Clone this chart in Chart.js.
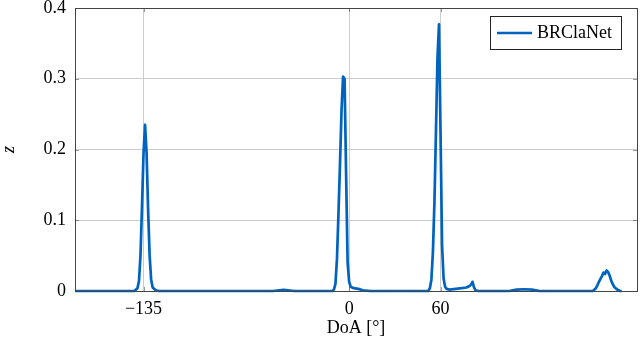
<!DOCTYPE html>
<html lang="en">
  <head>
    <meta charset="UTF-8" />
    <title>BRClaNet DoA spectrum</title>
    <style>
      body {
        margin: 0;
        background: #fff;
      }
      .chartContainer {
        width: 640px;
        height: 348px;
      }
    </style>
    <script src="https://cdn.jsdelivr.net/npm/chart.js"></script>
  </head>
  <body>
    <div class="chartContainer">
      <canvas id="doaChart"></canvas>
    </div>
    <script>
      // DoA angles (degrees) and spectrum values
      const doa = [
        -180, -145, -141, -139, -138, -137, -136, -135, -134, -133, -132, -131, -130, -129, -127, -125,
        -50, -43, -36,
        -11, -10, -9, -8, -7, -6, -5, -4, -3, -2, -1, 0, 1, 3, 6, 9, 14,
        50, 52, 53, 54, 55, 56, 57, 58, 59, 60, 61, 62, 63, 64, 66, 70, 74, 77, 79, 80, 81, 82, 83, 85,
        105, 110, 115, 120, 125,
        160, 162, 163, 164, 165, 166, 167, 168, 169, 170, 171, 172, 173, 174, 175, 176, 177, 178, 179
      ];
      const zBRClaNet = [
        0, 0, 0, 0.004, 0.014, 0.05, 0.12, 0.195, 0.235, 0.195, 0.115, 0.05, 0.016, 0.005, 0.001, 0,
        0, 0.0015, 0,
        0, 0.002, 0.01, 0.045, 0.11, 0.18, 0.255, 0.303, 0.3, 0.165, 0.04, 0.013, 0.006, 0.004, 0.003, 0.001, 0,
        0, 0, 0.004, 0.016, 0.055, 0.125, 0.225, 0.33, 0.377, 0.225, 0.065, 0.018, 0.006, 0.003, 0.002, 0.003, 0.004, 0.005, 0.007, 0.009, 0.013, 0.005, 0.001, 0,
        0, 0.002, 0.0025, 0.002, 0,
        0, 0.004, 0.008, 0.013, 0.017, 0.021, 0.026, 0.024, 0.029, 0.027, 0.022, 0.015, 0.01, 0.006, 0.004, 0.002, 0.001, 0, 0
      ];
      const xTicks = [-135, 0, 60];
      const yTicks = [0, 0.1, 0.2, 0.3, 0.4];
      const seriesLabel = "BRClaNet";

      const serif = "'Liberation Serif', 'DejaVu Serif', serif";
      const lineColor = "#0063bf";

      // frame, inner tick marks, axis titles and the boxed legend
      const decorations = {
        id: "decorations",
        afterDraw(chart) {
          const ctx = chart.ctx;
          const a = chart.chartArea;
          const xs = chart.scales.x;
          const ys = chart.scales.y;
          ctx.save();
          ctx.strokeStyle = "rgba(70,70,70,0.55)";
          ctx.lineWidth = 1;
          xTicks.forEach((v) => {
            const px = Math.round(xs.getPixelForValue(v)) + 0.5;
            ctx.beginPath();
            ctx.moveTo(px, a.bottom);
            ctx.lineTo(px, a.bottom - 4);
            ctx.moveTo(px, a.top);
            ctx.lineTo(px, a.top + 4);
            ctx.stroke();
          });
          yTicks.forEach((v) => {
            const py = Math.round(ys.getPixelForValue(v)) + 0.5;
            ctx.beginPath();
            ctx.moveTo(a.left, py);
            ctx.lineTo(a.left + 4, py);
            ctx.moveTo(a.right, py);
            ctx.lineTo(a.right - 4, py);
            ctx.stroke();
          });
          ctx.strokeStyle = "#444";
          ctx.strokeRect(Math.round(a.left) + 0.5, Math.round(a.top) + 0.5, Math.round(a.right - a.left), Math.round(a.bottom - a.top));

          ctx.fillStyle = "#000";
          ctx.font = "18px " + serif;
          ctx.textAlign = "center";
          ctx.textBaseline = "middle";
          ctx.fillText("DoA [°]", (a.left + a.right) / 2, 328);

          ctx.save();
          ctx.translate(9, (a.top + a.bottom) / 2);
          ctx.rotate(-Math.PI / 2);
          ctx.font = "italic 18px " + serif;
          ctx.fillText("z", 0, 0);
          ctx.restore();

          // legend box
          ctx.fillStyle = "#fff";
          ctx.fillRect(490.5, 16.5, 131, 33);
          ctx.strokeStyle = "#222";
          ctx.strokeRect(490.5, 16.5, 131, 33);
          ctx.strokeStyle = lineColor;
          ctx.lineWidth = 2.6;
          ctx.beginPath();
          ctx.moveTo(497, 33);
          ctx.lineTo(532, 33);
          ctx.stroke();
          ctx.fillStyle = "#000";
          ctx.textAlign = "left";
          ctx.font = "18px " + serif;
          ctx.fillText(seriesLabel, 537, 33.5);
          ctx.restore();
        },
      };

      const points = doa.map((d, i) => ({ x: d, y: zBRClaNet[i] }));

      new Chart(document.getElementById("doaChart"), {
        type: "line",
        data: {
          datasets: [
            {
              label: seriesLabel,
              data: points,
              borderColor: lineColor,
              borderWidth: 2.7,
              pointRadius: 0,
              tension: 0,
              fill: false,
              borderJoinStyle: "round",
              clip: 4,
            },
          ],
        },
        options: {
          responsive: true,
          maintainAspectRatio: false,
          animation: false,
          layout: { padding: { top: 8, right: 3, left: 0, bottom: 0 } },
          plugins: {
            legend: { display: false },
            tooltip: { enabled: false },
          },
          scales: {
            x: {
              type: "linear",
              min: -180,
              max: 189,
              afterBuildTicks: (scale) => {
                scale.ticks = xTicks.map((v) => ({ value: v }));
              },
              afterFit: (scale) => {
                scale.height = 57;
                scale.paddingLeft = 0;
                scale.paddingRight = 0;
              },
              grid: { color: "#cccccc", drawTicks: false },
              border: { display: false },
              ticks: {
                padding: 7,
                color: "#000",
                font: { family: serif, size: 18 },
                maxRotation: 0,
                callback: (v) => (v < 0 ? "\u2212" + Math.abs(v) : String(v)),
              },
            },
            y: {
              min: 0,
              max: 0.4,
              afterBuildTicks: (scale) => {
                scale.ticks = yTicks.map((v) => ({ value: v }));
              },
              afterFit: (scale) => {
                scale.width = 75;
                scale.paddingTop = 0;
                scale.paddingBottom = 0;
              },
              grid: { color: "#cccccc", drawTicks: false },
              border: { display: false },
              ticks: {
                padding: 9,
                color: "#000",
                font: { family: serif, size: 18 },
                callback: (v) => (v === 0 ? "0" : v.toFixed(1)),
              },
            },
          },
        },
        plugins: [decorations],
      });
    </script>
  </body>
</html>
